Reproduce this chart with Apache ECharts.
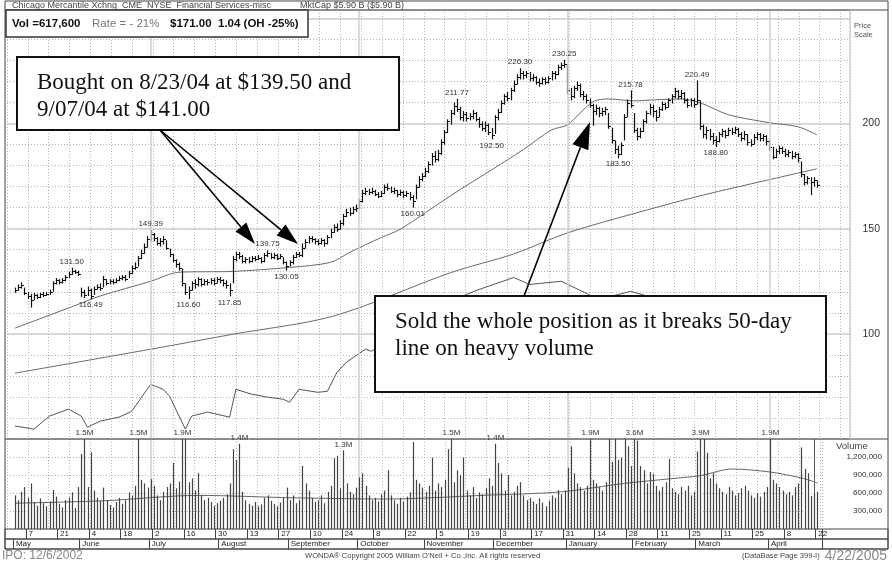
<!DOCTYPE html>
<html>
<head>
<meta charset="utf-8">
<title>Chicago Mercantile Xchng - daily graph</title>
<script src="https://cdn.jsdelivr.net/npm/echarts@6/dist/echarts.min.js"></script>
<style>
  html, body { margin: 0; padding: 0; background: #fff; }
  #chart { width: 892px; height: 562px; }
</style>
</head>
<body>
<div id="chart"></div>
<script>
// one slot per weekday, slot 0 = Thu 29 Apr 2004; first bar Mon 3 May 2004 sits in slot 2
const firstSlot = 2;

const highs = [
  122, 123.5, 124.5, 122, 120, 119, 119.5, 119, 119.5, 120,
  120, 121, 125, 126.5, 126, 126.5, 128, 129.5, 131.5, 130.5,
  130, 122, 121, 122.5, 121.5, 122.5, 123.5, 124, 127.5, 126,
  126, 126, 126.5, 127.5, 128, 128, 130, 132.5, 134, 137,
  140, 143, 146.5, 149.39, 148, 146, 145.5, 146.5, 144.5, 140.5,
  138, 135.5, 134, 131, 124, 122.5, 125, 126, 127, 126.5,
  126, 126, 126.5, 126.5, 127, 127, 126, 125.5, 124, 137,
  139, 139, 137.5, 136.5, 136.5, 137, 137, 137.5, 136.5, 138.5,
  139.75, 138.5, 138.5, 138, 138, 136.5, 134.5, 135, 137.5, 139,
  139, 143, 145, 146.5, 146.5, 145.5, 145, 145.5, 145, 147,
  150, 152, 152.5, 154, 157, 159.5, 160, 160.5, 161.5, 164,
  168.5, 169.5, 169, 169.5, 168.5, 167.5, 168, 171, 171.5, 170,
  169.5, 168.5, 168.5, 168, 168, 167.5, 166, 171, 175, 176.5,
  179, 182, 186, 187, 187.5, 192.5, 197, 202, 206.5, 210,
  211.77, 208, 206, 205.5, 205, 206.5, 205.5, 203, 201, 201,
  200, 198, 204, 207, 211, 214, 215, 217, 220.5, 223.5,
  226.3, 225, 225, 224.5, 223.5, 222.5, 221.5, 222, 222, 222.5,
  225, 225, 228, 229, 230.25, 228, 217, 218, 220, 219,
  215.5, 214, 212, 209.5, 209, 208, 207.5, 208, 205, 198,
  192, 189.5, 191, 204.5, 211.5, 215.78, 205, 198, 198, 202,
  206, 209.5, 209, 206.5, 208, 210.5, 210, 212, 214, 217,
  216, 216, 215, 212, 212, 212, 220.49, 211, 199.5, 198.5,
  197.5, 195.5, 194, 196, 197.5, 197, 198, 198, 198.5, 198,
  196, 196.5, 195, 192.5, 195, 196, 195.5, 195, 194.5, 192,
  189, 188, 189.5, 189, 188, 187.5, 187, 186.5, 186, 182,
  176, 175, 174.5, 174.5, 173
];
const lows = [
  119.5, 120.5, 121.5, 118.5, 116.5, 112.5, 116, 116.5, 117, 117.5,
  118, 118.5, 120, 123.5, 123.5, 124, 125, 126.5, 128, 128.5,
  127.5, 117.5, 117, 118, 116.49, 118.5, 121, 120.5, 122, 123,
  123.5, 123.5, 124, 125, 125.5, 125, 126.5, 128.5, 130.5, 132,
  135.5, 138, 141, 144, 144, 142, 141.5, 142.5, 140, 136.5,
  134, 131.5, 130, 122.5, 118.5, 116.6, 120.5, 121.5, 122.5, 122.5,
  123, 123, 123.5, 123, 124, 124, 122.5, 121.5, 117.85, 124,
  134.5, 135.5, 133.5, 133.5, 133.5, 134, 134.5, 135, 133.5, 134,
  136.5, 135.5, 135.5, 135, 135.5, 133, 130.05, 132, 133, 136,
  136.5, 136.5, 140.5, 143, 143.5, 142.5, 142, 142.5, 141.5, 142.5,
  145.5, 148, 148.5, 149.5, 151.5, 155.5, 156, 157, 158, 159.5,
  162.5, 166, 166, 166.5, 165.5, 164.5, 165, 166.5, 168, 167,
  166.5, 165, 165.5, 164.5, 165, 163.5, 160.01, 164, 169.5, 172.5,
  174.5, 176.5, 180, 181.5, 182, 185, 190, 195.5, 199.5, 204,
  205.5, 201.5, 201, 201, 201.5, 202, 201, 198, 196.5, 196,
  194.5, 192.5, 195, 201.5, 205, 209, 210.5, 211, 215, 218.5,
  221, 221, 221.5, 220, 220, 218.5, 217.5, 218.5, 218.5, 219,
  220.5, 221, 223, 225.5, 226.5, 214, 211, 212, 215.5, 212.5,
  211, 209.5, 207.5, 199, 204, 203, 203.5, 204, 197.5, 190.5,
  185.5, 183.5, 185, 192, 203, 207.5, 195.5, 192, 193, 196,
  200, 204, 203, 201, 203, 206, 206.5, 207.5, 209.5, 212,
  211.5, 211.5, 209.5, 207.5, 208, 207.5, 209, 197, 193, 192.5,
  192, 190, 188.8, 191, 193.5, 193, 194, 194.5, 195, 193.5,
  191.5, 192, 189.5, 189, 190, 192, 191.5, 191.5, 189.5, 187,
  183, 183.5, 185.5, 185.5, 184, 184, 183, 183.5, 181.5, 174.5,
  170.5, 171, 166, 170, 169.5
];
const closes = [
  121, 122.5, 123, 119.5, 118, 116, 118.5, 117.5, 119, 118.5,
  119, 120, 124, 125.5, 124.5, 125.5, 127, 128.5, 130, 129.5,
  128.5, 120, 118.5, 121, 118, 121.5, 122.5, 122, 126, 124,
  125, 124.5, 125.5, 126.5, 127, 126, 129, 131.5, 132, 136,
  138.5, 141.5, 145, 147.5, 145.5, 143, 144, 145, 141, 138,
  135, 133, 131.5, 124, 120, 121, 124, 123.5, 126, 123.5,
  125, 124.5, 125.5, 124, 126, 125.5, 124, 123, 121, 135.5,
  138, 137, 134.5, 135.5, 134.5, 136, 135.5, 136, 134.5, 137.5,
  138.5, 136.5, 137.5, 136, 137, 134, 132.5, 134, 136.5, 138,
  137.5, 141, 143.5, 145.5, 145, 144, 143, 144.5, 143, 146,
  148.5, 151, 150, 152.5, 156, 158, 157.5, 159.5, 160, 163,
  167, 168, 167.5, 168, 166.5, 165.5, 167, 170, 169.5, 168,
  168.5, 166.5, 167.5, 166, 167, 165, 163, 170, 173.5, 175,
  177.5, 181, 184.5, 183, 186, 191, 196, 201, 205, 208.5,
  207, 203, 204.5, 202.5, 203.5, 205, 202, 200, 198, 199.5,
  196, 194.5, 203, 205.5, 210, 213, 212, 216, 219, 222,
  224, 223, 224, 221.5, 222, 220, 219.5, 221, 220, 221.5,
  224, 223.5, 227, 228, 228.5, 216, 213, 217, 218.5, 214,
  213, 211, 209, 206, 207.5, 205, 206, 207, 199, 192,
  188, 185.5, 190, 203, 210, 209, 197, 194, 196.5, 201,
  205, 208, 206, 203, 207, 209.5, 208, 211, 213, 215.5,
  213, 214.5, 211, 209, 211, 209.5, 211, 199, 195, 197,
  194, 192, 191.5, 195, 196.5, 194.5, 197, 196, 197.5, 195,
  193, 195, 191, 190.5, 193.5, 195, 193, 194, 191.5, 189,
  184, 187, 188.5, 187, 185.5, 186.5, 184.5, 185.5, 183.5, 176,
  172, 174, 172, 173, 171
];
// daily volume, thousands of shares
const volumes = [
  560, 480, 620, 700, 520, 760, 450, 390, 510, 430,
  380, 460, 650, 540, 420, 360, 480, 520, 610, 350,
  700, 1250, 1520, 700, 1280, 640, 520, 470, 690, 480,
  400, 360, 450, 520, 420, 480, 610, 560, 720, 1520,
  820, 760, 690, 830, 720, 560, 480, 620, 700, 760,
  1100, 680, 790, 1900, 1850, 780, 845, 640, 930, 560,
  480, 520, 450, 390, 430, 470, 520, 580, 760, 1330,
  1150, 1420, 620, 480, 420, 390, 450, 380, 410, 520,
  560, 470, 420, 380, 440, 520, 690, 480, 560, 430,
  480, 1050, 760, 640, 520, 450, 480, 560, 430, 620,
  720, 1180, 1220, 680, 1310, 760, 620, 580, 690, 860,
  930, 720, 560, 480, 520, 460, 580, 640, 980, 560,
  480, 420, 520, 460, 540, 610, 1450, 820, 760, 690,
  620, 720, 1190, 640, 760, 700, 820, 1330, 1520, 780,
  980, 900, 1190, 640, 560, 700, 520, 610, 580, 680,
  845, 720, 1420, 1100, 930, 640, 900, 560, 620, 720,
  780, 560, 480, 520, 460, 420, 510, 440, 380, 470,
  560, 520, 650, 580, 640, 1020, 1380, 930, 760, 700,
  640, 720, 1900, 820, 760, 700, 640, 780, 1600, 1120,
  1650, 1150, 1190, 1550, 1380, 1050, 3600, 1470, 1050, 980,
  760, 950, 920, 720, 640, 700, 780, 1170, 680, 620,
  580, 700, 640, 720, 560, 620, 1290, 3900, 1600, 1270,
  845, 930, 760, 680, 620, 580, 700, 640, 560, 600,
  680, 720, 640, 560, 520, 600, 540, 620, 700, 1900,
  820, 760, 700, 640, 580, 620, 560, 700, 760, 1360,
  1000, 930, 550, 590, 618
];

// moving averages and relative strength line, read as [slot, value]
const ma50 = [[2, 102.7], [22, 114], [29, 118], [45, 125], [54, 129.3], [71, 129.7], [89, 131.6],
  [102, 134], [108, 138.7], [118, 145.8], [124, 149.7], [140, 165.7], [153, 178], [163, 187.6],
  [172, 197], [177, 199.4], [185, 210.3], [190, 211.7], [198, 210.8], [205, 211.3], [213, 211.7],
  [219, 209.9], [228, 204.2], [241, 200.4], [250, 198.5], [256, 194.7]];
const ma200 = [[2, 81.3], [45, 92.7], [71, 99.8], [103, 108.5], [140, 129.1], [160, 138],
  [177, 148], [200, 158], [220, 166], [240, 173], [256, 178.5]];
const rsLine = [[2, 56.2], [8, 54.7], [13, 60.9], [19, 64.2], [23, 60.9], [25, 55.6], [29, 58.5],
  [35, 60.4], [39, 63.2], [45, 76], [49, 73.6], [51, 70.3], [54, 60.9], [56, 54.7], [58, 60.9],
  [63, 62.8], [70, 60.4], [72, 73.6], [77, 71.3], [82, 69.9], [87, 68.9], [89, 67.5], [92, 73.6],
  [98, 72.2], [101, 72.7], [104, 81.7], [107, 86.5], [113, 92.7], [115, 91.7], [124, 102.2],
  [137, 114], [149, 121.1], [160, 126.8], [165, 123.5], [175, 125], [187, 116.4], [197, 120.2],
  [206, 116.4], [219, 114], [235, 109.3], [256, 107.9]];
const volAvg = [[2, 430], [30, 470], [60, 560], [90, 520], [120, 500], [150, 560], [175, 620],
  [195, 760], [210, 840], [219, 890], [229, 1000], [241, 950], [251, 850], [256, 770]];

// slots whose high / low / volume carry a printed value
const highTags = [20, 45, 82, 142, 162, 176, 197, 218];
const lowTags = [26, 57, 70, 88, 128, 153, 193, 224];
const volTags = [24, 41, 55, 73, 106, 140, 154, 184, 198, 219, 241];

// date axis
const dayLabels = ['7', '21', '4', '18', '2', '16', '30', '13', '27', '10', '24', '8', '22',
  '5', '19', '3', '17', '31', '14', '28', '11', '25', '11', '25', '8', '22'];
const dayStart = 6, dayStep = 10;
const monthNames = ['May', 'June', 'July', 'August', 'September', 'October', 'November',
  'December', 'January', 'February', 'March', 'April'];
const monthStarts = [2, 23, 45, 67, 89, 111, 132, 154, 177, 198, 218, 241];
const quarterStarts = [monthStarts[2], monthStarts[5], monthStarts[8], monthStarts[11]];

const priceLabels = [100, 150, 200];
const volumeLabels = [300, 600, 900, 1200];
const volMax = 1500;

const priceSlots = Array.from({ length: 267 }, (_, i) => i);
const volSlots = Array.from({ length: 258 }, (_, i) => i);

const SANS = 'Liberation Sans, Arial, sans-serif';
const SERIF = 'Liberation Serif, Times New Roman, serif';
const dotted = { color: '#b4b4b4', width: 1, type: [1, 2] };
const major = { color: '#cfcfcf', width: 1.5, type: 'solid' };

const chart = echarts.init(document.getElementById('chart'));

const bars = highs.map((h, i) => [i + firstSlot, h, lows[i], closes[i]]);
const vols = volumes.map((v, i) => [i + firstSlot, v]);
const tags = highTags.map(s => [s, highs[s - firstSlot], 1])
  .concat(lowTags.map(s => [s, lows[s - firstSlot], -1]));

function hiddenCat(gridIndex, data, extra) {
  return Object.assign({
    gridIndex, type: 'category', data, boundaryGap: true,
    axisLine: { show: false }, axisTick: { show: false }, axisLabel: { show: false },
    splitLine: { show: false }
  }, extra || {});
}
function gridOverlay(gridIndex, max) {
  return {
    gridIndex, type: 'value', min: 0, max, interval: 6.6, position: 'top',
    axisLine: { show: false }, axisTick: { show: false }, axisLabel: { show: false },
    splitLine: { show: true, lineStyle: dotted }
  };
}
// date rows: a divider line and a label at each chosen slot
function dateRow(gridIndex, pick, text) {
  return hiddenCat(gridIndex, volSlots, {
    position: 'top',
    splitLine: { show: true, interval: pick, lineStyle: { color: '#444', width: 1 } },
    axisLabel: { show: true, inside: true, margin: 1, align: 'left', verticalAlign: 'top', padding: [0, 0, 0, 1],
      fontSize: 8, fontFamily: SANS, color: '#222', interval: pick, formatter: text }
  });
}

function arrow(x1, y1, x2, y2, len, half) {
  const dx = x2 - x1, dy = y2 - y1, d = Math.hypot(dx, dy);
  const ux = dx / d, uy = dy / d;
  const bx = x2 - ux * len, by = y2 - uy * len;
  return [
    { type: 'line', z: 110, shape: { x1, y1, x2: bx, y2: by }, style: { stroke: '#000', lineWidth: 1.6 } },
    { type: 'polygon', z: 110, shape: { points: [[x2, y2], [bx - uy * half, by + ux * half], [bx + uy * half, by - ux * half]] },
      style: { fill: '#000' } }
  ];
}
function txt(text, x, y, size, opts) {
  return {
    type: 'text', z: 105,
    style: Object.assign({ text, x, y, fontSize: size, fontFamily: SANS, fill: '#333', verticalAlign: 'middle' }, opts || {})
  };
}

const option = {
  animation: false,
  backgroundColor: '#fff',
  grid: [
    { left: 7, top: 10, width: 843, height: 429 },
    { left: 7, top: 439, width: 815, height: 90 },
    { left: 7, top: 529, width: 815, height: 10 },
    { left: 7, top: 539, width: 815, height: 10 }
  ],
  xAxis: [
    hiddenCat(0, priceSlots),
    gridOverlay(0, 267),
    hiddenCat(1, volSlots),
    gridOverlay(1, 258),
    dateRow(2, i => i >= dayStart && (i - dayStart) % dayStep === 0,
      (v, i) => dayLabels[(i - dayStart) / dayStep] || ''),
    dateRow(3, i => monthStarts.includes(i),
      (v, i) => monthNames[monthStarts.indexOf(i)] || '')
  ],
  yAxis: [
    { gridIndex: 0, type: 'value', min: 50, max: 254, interval: 10, position: 'right',
      axisLine: { show: false }, axisTick: { show: false },
      axisLabel: { margin: 30, align: 'right', fontSize: 10.5, fontFamily: SANS, color: '#333',
        formatter: v => priceLabels.includes(v) ? String(v) : '' },
      splitLine: { show: true, lineStyle: dotted } },
    { gridIndex: 0, type: 'value', min: 50, max: 254, interval: 50, position: 'right',
      axisLine: { show: false }, axisTick: { show: false }, axisLabel: { show: false },
      splitLine: { show: true, lineStyle: major } },
    { gridIndex: 1, type: 'value', min: 0, max: volMax, interval: 300, position: 'right',
      axisLine: { show: false }, axisTick: { show: false },
      axisLabel: { margin: 60, align: 'right', fontSize: 8, fontFamily: SANS, color: '#333',
        formatter: v => volumeLabels.includes(v) ? (v * 1000).toLocaleString('en-US') : '' },
      splitLine: { show: true, lineStyle: dotted } },
    { gridIndex: 2, type: 'value', show: false },
    { gridIndex: 3, type: 'value', show: false }
  ],
  series: [
    {
      type: 'custom', name: 'price', xAxisIndex: 0, yAxisIndex: 0, data: bars, clip: false, z: 4,
      encode: { x: 0, y: [1, 2] },
      renderItem(params, api) {
        const s = api.value(0);
        const hi = api.coord([s, api.value(1)]);
        const lo = api.coord([s, api.value(2)]);
        const cl = api.coord([s, api.value(3)]);
        const x = Math.round(hi[0]) + 0.5;
        const cy = Math.round(cl[1]) + 0.5;
        return {
          type: 'group', children: [
            { type: 'line', shape: { x1: x, y1: hi[1], x2: x, y2: lo[1] }, style: { stroke: '#111', lineWidth: 1.2 } },
            { type: 'line', shape: { x1: x, y1: cy, x2: x + 2.5, y2: cy }, style: { stroke: '#111', lineWidth: 1 } }
          ]
        };
      },
      markLine: {
        silent: true, symbol: 'none', label: { show: false }, lineStyle: major,
        data: quarterStarts.map(s => ({ xAxis: s }))
      }
    },
    { type: 'line', name: '50-day', xAxisIndex: 0, yAxisIndex: 0, data: ma50, showSymbol: false, smooth: 0.3,
      lineStyle: { color: '#6a6a6a', width: 1 }, z: 3 },
    { type: 'line', name: '200-day', xAxisIndex: 0, yAxisIndex: 0, data: ma200, showSymbol: false, smooth: 0.3,
      lineStyle: { color: '#6a6a6a', width: 1 }, z: 3 },
    { type: 'line', name: 'RS', xAxisIndex: 0, yAxisIndex: 0, data: rsLine, showSymbol: false,
      lineStyle: { color: '#555', width: 1 }, z: 3 },
    {
      type: 'custom', name: 'tags', xAxisIndex: 0, yAxisIndex: 0, data: tags, clip: false, z: 6,
      renderItem(params, api) {
        const p = api.coord([api.value(0), api.value(1)]);
        const up = api.value(2) > 0;
        return {
          type: 'text',
          style: { text: api.value(1).toFixed(2), x: p[0], y: up ? p[1] - 2 : p[1] + 2,
            align: 'center', verticalAlign: up ? 'bottom' : 'top', fontSize: 8, fontFamily: SANS, fill: '#333' }
        };
      }
    },
    {
      type: 'custom', name: 'volume', xAxisIndex: 2, yAxisIndex: 2, data: vols, clip: false, z: 6,
      encode: { x: 0, y: 1 },
      renderItem(params, api) {
        const s = api.value(0), v = api.value(1);
        const top = api.coord([s, Math.min(v, volMax)]);
        const base = api.coord([s, 0]);
        const x = Math.round(top[0]) + 0.5;
        const children = [{ type: 'line', shape: { x1: x, y1: base[1], x2: x, y2: top[1] },
          style: { stroke: '#444', lineWidth: 1.2 } }];
        if (volTags.includes(s)) {
          children.push({ type: 'text', z2: 10, style: { text: (v / 1000).toFixed(1) + 'M', x, y: top[1] - 2,
            align: 'center', verticalAlign: 'bottom', fontSize: 8, fontFamily: SANS, fill: '#333',
            backgroundColor: '#fff', padding: [0, 1] } });
        }
        return { type: 'group', children };
      },
      markLine: {
        silent: true, symbol: 'none', label: { show: false },
        data: quarterStarts.map(s => ({ xAxis: s, lineStyle: major }))
          .concat([{ xAxis: 255, lineStyle: { color: '#555', width: 1, type: 'solid' } }])
      }
    },
    { type: 'line', name: 'avg volume', xAxisIndex: 2, yAxisIndex: 2, data: volAvg, showSymbol: false, smooth: 0.3,
      lineStyle: { color: '#666', width: 1 }, z: 5 }
  ],
  graphic: [
    { type: 'rect', z: 90, shape: { x: 5, y: 1, width: 883, height: 548 }, style: { fill: 'transparent', stroke: '#444', lineWidth: 1 } },
    { type: 'line', z: 90, shape: { x1: 5, y1: 10, x2: 888, y2: 10 }, style: { stroke: '#444', lineWidth: 1 } },
    { type: 'line', z: 90, shape: { x1: 5, y1: 439, x2: 888, y2: 439 }, style: { stroke: '#444', lineWidth: 1.2 } },
    { type: 'line', z: 90, shape: { x1: 850, y1: 10, x2: 850, y2: 439 }, style: { stroke: '#bbb', lineWidth: 1 } },
    { type: 'rect', z: 90, shape: { x: 5, y: 529, width: 883, height: 10 }, style: { fill: 'transparent', stroke: '#444', lineWidth: 1 } },
    { type: 'rect', z: 90, shape: { x: 5, y: 539, width: 883, height: 10 }, style: { fill: 'transparent', stroke: '#444', lineWidth: 1 } },

    txt('Chicago Mercantile Xchng  CME  NYSE  Financial Services-misc', 12, 5.5, 9, { fill: '#444' }),
    txt('MktCap $5.90 B ($5.90 B)', 300, 5.5, 9, { fill: '#444' }),
    { type: 'rect', z: 100, shape: { x: 6, y: 10, width: 302, height: 27 }, style: { fill: '#fff', stroke: '#333', lineWidth: 1.5 } },
    txt('Vol =617,600', 12, 24, 11.5, { fontWeight: 'bold', fill: '#111' }),
    txt('Rate = - 21%', 92, 24, 11.5, { fill: '#777' }),
    txt('$171.00', 170, 24, 11.5, { fontWeight: 'bold', fill: '#111' }),
    txt('1.04 (OH -25%)', 218, 24, 11.5, { fontWeight: 'bold', fill: '#111' }),

    txt('Price', 854, 26, 7.5, { fill: '#555' }),
    txt('Scale', 854, 35, 7.5, { fill: '#555' }),
    txt('Volume', 836, 446, 9.5, { fill: '#444' }),

    txt('IPO: 12/6/2002', 2, 556, 12, { fill: '#888' }),
    txt("WONDA\u00AE Copyright 2005 William O'Neil + Co.,Inc. All rights reserved", 305, 555.5, 7.6, { fill: '#444' }),
    txt('(DataBase Page 399-I)', 742, 555.5, 7.6, { fill: '#444' }),
    txt('4/22/2005', 887, 556, 14, { fill: '#888', align: 'right' }),

    { type: 'rect', z: 100, shape: { x: 17, y: 57, width: 382, height: 73 }, style: { fill: '#fff', stroke: '#111', lineWidth: 2 } },
    txt('Bought on 8/23/04 at $139.50 and', 37, 83, 23, { fontFamily: SERIF, fill: '#111' }),
    txt('9/07/04 at $141.00', 37, 110, 23, { fontFamily: SERIF, fill: '#111' }),
    ...arrow(160, 130, 255, 244, 22, 7),
    ...arrow(160, 130, 298, 244, 22, 7),

    { type: 'rect', z: 100, shape: { x: 375, y: 296, width: 451, height: 96 }, style: { fill: '#fff', stroke: '#111', lineWidth: 2 } },
    txt('Sold the whole position as it breaks 50-day', 395, 322, 23, { fontFamily: SERIF, fill: '#111' }),
    txt('line on heavy volume', 395, 349, 23, { fontFamily: SERIF, fill: '#111' }),
    ...arrow(524, 296, 590, 122, 27, 8.5)
  ]
};

chart.setOption(option);
</script>
</body>
</html>
